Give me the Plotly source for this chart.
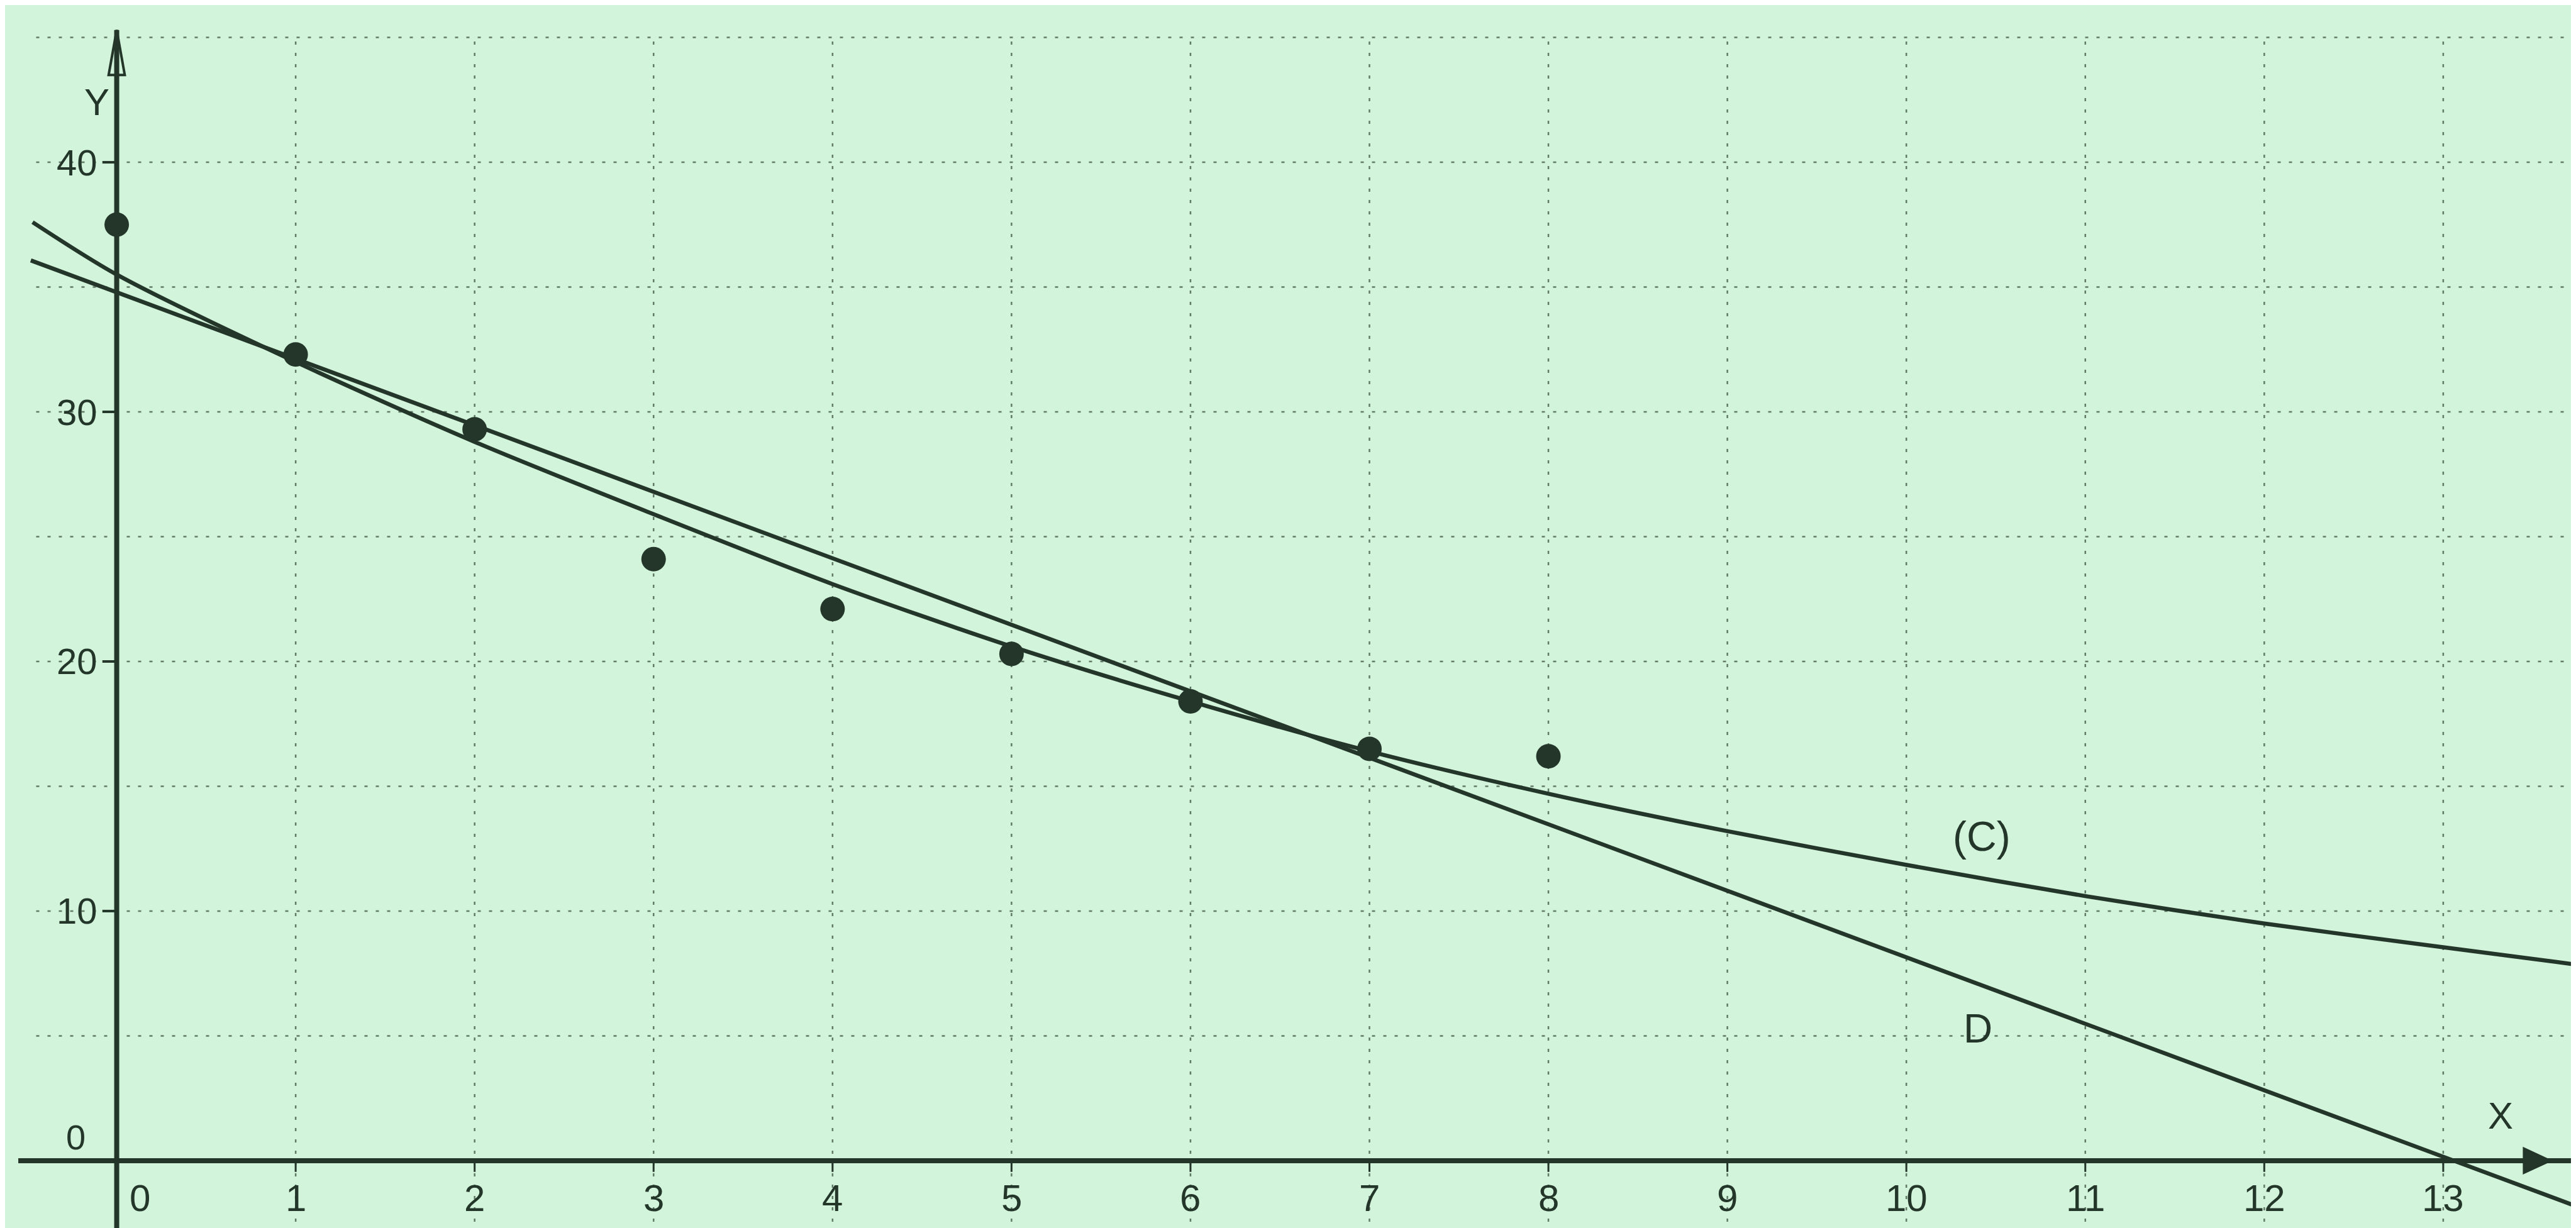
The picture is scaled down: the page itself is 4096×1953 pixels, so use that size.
import plotly.graph_objects as go

# ---------------- data ----------------
point_x = [0, 1, 2, 3, 4, 5, 6, 7, 8]
point_y = [37.5, 32.3, 29.3, 24.1, 22.1, 20.3, 18.4, 16.5, 16.2]

curve_c_x = [-0.47, 0, 1, 2, 3, 4, 5, 6, 7, 8, 9, 10, 11, 12, 13, 13.75]
curve_c_y = [37.6, 35.5, 32.0, 28.8, 25.9, 23.1, 20.6, 18.4, 16.4, 14.7, 13.2, 11.85, 10.6, 9.5, 8.55, 7.85]

line_d_x = [-0.48, 13.73]
line_d_y = [36.07, -1.79]

x_ticks = list(range(0, 14))
x_tick_labels = [str(v) for v in x_ticks]
y_ticks = [10, 20, 30, 40]
y_tick_labels = ["10", "20", "30", "40"]
grid_x = list(range(1, 14))
grid_y = [5, 10, 15, 20, 25, 30, 35, 40, 45]

label_c = "(C)"
label_d = "D"
axis_x_name = "X"
axis_y_name = "Y"

# ---------------- layout constants ----------------
X_RANGE = [-0.624, 13.77]
Y_RANGE = [-2.9, 46.3]
BG = "#d2f4db"
INK = "#24352a"
GRID = "rgba(50,70,56,0.7)"
FONT = "Liberation Sans, Arial, sans-serif"

fig = go.Figure()

# curve C
fig.add_trace(go.Scatter(x=curve_c_x, y=curve_c_y, mode="lines",
                         line=dict(color=INK, width=6.5, shape="spline", smoothing=0.8),
                         hoverinfo="skip", showlegend=False))
# line D
fig.add_trace(go.Scatter(x=line_d_x, y=line_d_y, mode="lines",
                         line=dict(color=INK, width=6.5),
                         hoverinfo="skip", showlegend=False))
# data points
fig.add_trace(go.Scatter(x=point_x, y=point_y, mode="markers",
                         marker=dict(color=INK, size=39, line=dict(width=0)),
                         hoverinfo="skip", showlegend=False))

shapes = []
# grid (dotted)
grid_top = grid_y[-1]
grid_left = -0.45
for gx in grid_x:
    shapes.append(dict(type="line", xref="x", yref="y", x0=gx, x1=gx,
                       y0=Y_RANGE[0], y1=grid_top, layer="below",
                       line=dict(color=GRID, width=2.5, dash="5px,13px")))
for gy in grid_y:
    shapes.append(dict(type="line", xref="x", yref="y", x0=grid_left, x1=X_RANGE[1],
                       y0=gy, y1=gy, layer="below",
                       line=dict(color=GRID, width=2.5, dash="5px,13px")))

# axes
x_axis_start, x_axis_end = -0.55, 13.74
y_axis_top = 45.3
shapes.append(dict(type="line", xref="x", yref="y", x0=x_axis_start, x1=x_axis_end,
                   y0=0, y1=0, line=dict(color=INK, width=8)))
shapes.append(dict(type="line", xref="x", yref="y", x0=0, x1=0,
                   y0=Y_RANGE[0], y1=y_axis_top, line=dict(color=INK, width=8)))

# y-axis arrowhead (open, narrow)
head_len = 1.8
head_hw = 0.045
shapes.append(dict(type="path", xref="x", yref="y",
                   path=f"M {-head_hw},{y_axis_top - head_len} L 0,{y_axis_top} L {head_hw},{y_axis_top - head_len} Z",
                   line=dict(color=INK, width=4), fillcolor="rgba(0,0,0,0)"))
# x-axis arrowhead (filled)
tip = 13.6
xa_len = 0.15
xa_hh = 0.5
shapes.append(dict(type="path", xref="x", yref="y",
                   path=f"M {tip - xa_len},{-xa_hh} L {tip},0 L {tip - xa_len},{xa_hh} Z",
                   line=dict(color=INK, width=3), fillcolor=INK))

# tick marks
for ty in y_ticks:
    shapes.append(dict(type="line", xref="x", yref="y", x0=-0.08, x1=0, y0=ty, y1=ty,
                       line=dict(color=INK, width=4)))
for tx in x_ticks[1:]:
    shapes.append(dict(type="line", xref="x", yref="y", x0=tx, x1=tx, y0=0, y1=-0.45,
                       line=dict(color=INK, width=3)))

annotations = []
for tx, lab in zip(x_ticks, x_tick_labels):
    annotations.append(dict(x=tx + (0.13 if tx == 0 else 0), y=-1.5, xref="x", yref="y",
                            text=lab, showarrow=False,
                            font=dict(family=FONT, size=60, color=INK),
                            xanchor="center", yanchor="middle"))
for ty, lab in zip(y_ticks, y_tick_labels):
    annotations.append(dict(x=-0.1, y=ty, xref="x", yref="y", text=lab, showarrow=False,
                            font=dict(family=FONT, size=58, color=INK),
                            xanchor="right", yanchor="middle"))
annotations.append(dict(x=-0.23, y=0.95, xref="x", yref="y", text="0", showarrow=False,
                        font=dict(family=FONT, size=56, color=INK),
                        xanchor="center", yanchor="middle"))
annotations.append(dict(x=-0.11, y=42.4, xref="x", yref="y", text=axis_y_name, showarrow=False,
                        font=dict(family=FONT, size=60, color=INK),
                        xanchor="center", yanchor="middle"))
annotations.append(dict(x=13.32, y=1.8, xref="x", yref="y", text=axis_x_name, showarrow=False,
                        font=dict(family=FONT, size=60, color=INK),
                        xanchor="center", yanchor="middle"))
annotations.append(dict(x=10.42, y=13.0, xref="x", yref="y", text=label_c, showarrow=False,
                        font=dict(family=FONT, size=66, color=INK),
                        xanchor="center", yanchor="middle"))
annotations.append(dict(x=10.4, y=5.3, xref="x", yref="y", text=label_d, showarrow=False,
                        font=dict(family=FONT, size=64, color=INK),
                        xanchor="center", yanchor="middle"))

fig.update_layout(
    width=4096, height=1953,
    margin=dict(l=0, r=0, t=0, b=0),
    paper_bgcolor=BG, plot_bgcolor=BG,
    xaxis=dict(range=X_RANGE, visible=False, fixedrange=True),
    yaxis=dict(range=Y_RANGE, visible=False, fixedrange=True),
    shapes=shapes, annotations=annotations,
    showlegend=False,
)

fig.write_html("out.html")
